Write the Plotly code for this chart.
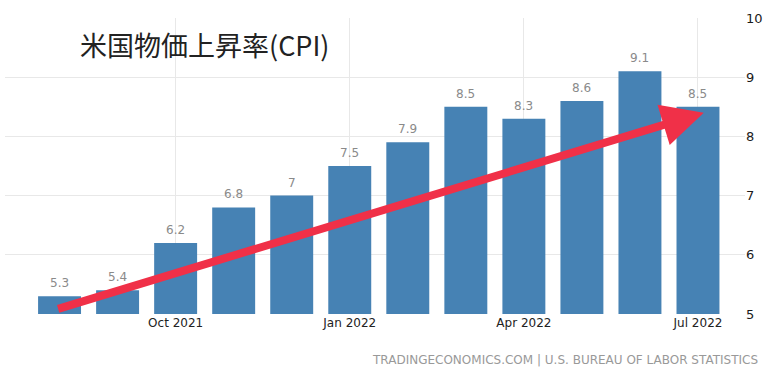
import plotly.graph_objects as go

months = ["Aug 2021", "Sep 2021", "Oct 2021", "Nov 2021", "Dec 2021", "Jan 2022",
          "Feb 2022", "Mar 2022", "Apr 2022", "May 2022", "Jun 2022", "Jul 2022"]
cpi = [5.3, 5.4, 6.2, 6.8, 7, 7.5, 7.9, 8.5, 8.3, 8.6, 9.1, 8.5]
tick_months = ["Oct 2021", "Jan 2022", "Apr 2022", "Jul 2022"]
y_ticks = [5, 6, 7, 8, 9, 10]
title_text = "米国物価上昇率(CPI)"
source_text = "TRADINGECONOMICS.COM | U.S. BUREAU OF LABOR STATISTICS"
arrow_from = (-0.05, 5.08)
arrow_to = (11.1, 8.4)

W, H = 780, 379
ML, MR, MT, MB = 5, 35, 18, 65
PW, PH = W - ML - MR, H - MT - MB


def px_to_paper(x, y):
    return (x - ML) / PW, (H - MB - y) / PH


fig = go.Figure()
fig.add_trace(go.Bar(
    x=months, y=cpi,
    marker=dict(color="#4682b4", line=dict(width=0)),
    width=0.74,
    hoverinfo="skip",
))

for m, v in zip(months, cpi):
    fig.add_annotation(
        x=m, y=v, xref="x", yref="y", text=f"{v:g}", showarrow=False,
        yanchor="bottom", yshift=4,
        font=dict(family="DejaVu Sans", size=12, color="#8a8a8a"),
    )

fig.add_annotation(
    x=arrow_to[0], y=arrow_to[1], ax=arrow_from[0], ay=arrow_from[1],
    xref="x", yref="y", axref="x", ayref="y",
    text="", showarrow=True, arrowhead=2, arrowsize=1.05, arrowwidth=8,
    arrowcolor="#f03048", standoff=0, startstandoff=0,
)

tx, ty = px_to_paper(78, 44)
fig.add_annotation(
    x=tx, y=ty, xref="paper", yref="paper", text=title_text,
    showarrow=False, xanchor="left", yanchor="middle",
    font=dict(family="Noto Sans CJK JP", size=27, color="#222222"),
)

sx, sy = px_to_paper(760, 360)
fig.add_annotation(
    x=sx, y=sy, xref="paper", yref="paper", text=source_text, showarrow=False,
    xanchor="right", yanchor="middle",
    font=dict(family="DejaVu Sans", size=12, color="#999999"),
)

fig.update_layout(
    width=W, height=H,
    margin=dict(l=ML, r=MR, t=MT, b=MB),
    paper_bgcolor="white", plot_bgcolor="white",
    showlegend=False,
    xaxis=dict(
        type="category", categoryorder="array", categoryarray=months,
        range=[-0.94, 11.81], automargin=False,
        tickvals=tick_months, ticktext=tick_months,
        showgrid=True, gridcolor="#e8e8e8", gridwidth=1,
        showline=False, zeroline=False, ticks="",
        tickfont=dict(family="DejaVu Sans", size=12, color="#222222"),
    ),
    yaxis=dict(
        side="right", range=[5, 10], tickvals=y_ticks, automargin=False,
        showgrid=True, gridcolor="#e8e8e8", gridwidth=1,
        showline=False, zeroline=False, ticks="",
        tickfont=dict(family="DejaVu Sans", size=13, color="#1a1a1a"),
    ),
)

fig.write_html("out.html", config={"displayModeBar": False},
               post_script="document.body.style.margin='0';")
